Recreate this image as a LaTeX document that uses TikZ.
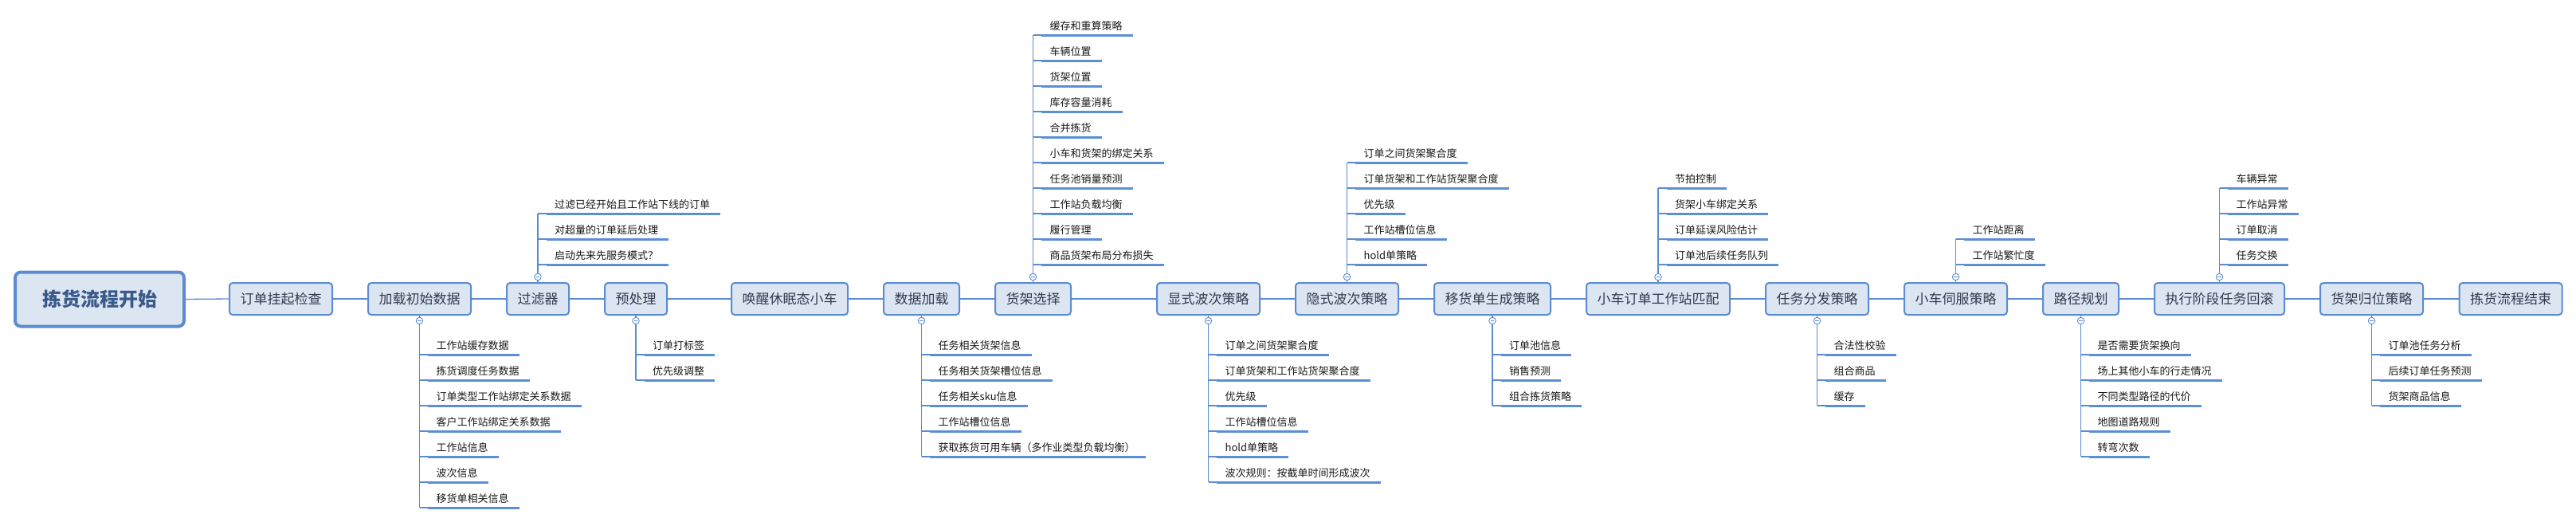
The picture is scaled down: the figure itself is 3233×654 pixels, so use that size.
\documentclass[tikz,border=0pt]{standalone}
\usepackage{fontspec}
\setmainfont{Noto Sans CJK SC}
\usetikzlibrary{calc}
\definecolor{bdr}{HTML}{5B8CD2}
\definecolor{boxfill}{HTML}{DCE6F2}
\definecolor{ulc}{HTML}{5A8FD8}
\definecolor{boxtext}{HTML}{2F3B4E}
\definecolor{maintext}{HTML}{3A5A8A}
\tikzset{
  mmmain/.style={draw=bdr, line width=4pt, fill=boxfill, rounded corners=7pt, minimum width=212pt, minimum height=68pt, inner sep=0pt, font=\fontsize{24}{28}\selectfont\bfseries, text=maintext},
  mmbox/.style={draw=bdr, line width=2pt, fill=boxfill, rounded corners=4pt, minimum height=40pt, inner xsep=13.5pt, inner ysep=0pt, font=\fontsize{17}{20}\selectfont, text=boxtext},
  mmleaf/.style={anchor=base west, inner sep=0pt, font=\fontsize{13}{15}\selectfont, text=black!90},
  mmlink/.style={draw=bdr, line width=1.3pt},
  mmul/.style={draw=ulc, line width=3pt},
  mmtog/.style={draw=bdr, line width=0.9pt, fill=white, circle, minimum size=8.5pt, inner sep=0pt,
    path picture={\draw[bdr, line width=0.8pt] ([xshift=-2.4pt]path picture bounding box.center) -- ([xshift=2.4pt]path picture bounding box.center);}},
}
\newcommand{\mmbelow}[3]{%
  \node[mmtog] (#1-tg) at (#2,402.5) {};
  \draw[mmlink] (#1.south) -- (#1-tg.north);
  \foreach \t [count=\i] in {#3} {
    \pgfmathsetmacro{\yy}{445+32*(\i-1)}
    \coordinate (#1-j\i) at (#2,\yy);
    \coordinate (#1-s\i) at (#2+10.5,\yy);
    \node[mmleaf] (#1-c\i) at (#2+21,\yy-7) {\t};
    \draw[mmul] (#1-s\i) -- (#1-c\i.base east |- #1-s\i) -- ++(13,0);
    \draw[mmlink] (#1-j\i) -- (#1-s\i);
    \xdef\mmlast{\i}
  }
  \draw[mmlink] (#1-tg.south) -- (#1-j\mmlast);
}
\newcommand{\mmabove}[4]{%
  \node[mmtog] (#1-tg) at (#2,347.5) {};
  \draw[mmlink] (#1.north) -- (#1-tg.south);
  \foreach \t [count=\i] in {#4} {
    \pgfmathsetmacro{\yy}{332-32*(#3-\i)}
    \coordinate (#1-j\i) at (#2,\yy);
    \coordinate (#1-s\i) at (#2+10.5,\yy);
    \node[mmleaf] (#1-c\i) at (#2+21,\yy-7) {\t};
    \draw[mmul] (#1-s\i) -- (#1-c\i.base east |- #1-s\i) -- ++(13,0);
    \draw[mmlink] (#1-j\i) -- (#1-s\i);
  }
  \draw[mmlink] (#1-tg.north) -- (#1-j1);
}
\begin{document}
\begin{tikzpicture}[x=1pt, y=-1pt]
\useasboundingbox[fill=white] (0,0) rectangle (3233,654);
% main chain
\node[mmmain] (n1) at (125,375.5) {拣货流程开始};
\node[mmbox] (n2) at (352.5,375) {订单挂起检查};
\node[mmbox] (n3) at (526.5,375) {加载初始数据};
\node[mmbox] (n4) at (675,375) {过滤器};
\node[mmbox] (n5) at (798,375) {预处理};
\node[mmbox] (n6) at (991,375) {唤醒休眠态小车};
\node[mmbox] (n7) at (1156.5,375) {数据加载};
\node[mmbox] (n8) at (1296.5,375) {货架选择};
\node[mmbox] (n9) at (1516.5,375) {显式波次策略};
\node[mmbox] (n10) at (1690.5,375) {隐式波次策略};
\node[mmbox] (n11) at (1873,375) {移货单生成策略};
\node[mmbox] (n12) at (2081,375) {小车订单工作站匹配};
\node[mmbox] (n13) at (2280.5,375) {任务分发策略};
\node[mmbox] (n14) at (2454.5,375) {小车伺服策略};
\node[mmbox] (n15) at (2611.5,375) {路径规划};
\node[mmbox] (n16) at (2785.5,375) {执行阶段任务回滚};
\node[mmbox] (n17) at (2976.5,375) {货架归位策略};
\node[mmbox] (n18) at (3151,375) {拣货流程结束};
\foreach \a/\b in {n1/n2,n2/n3,n3/n4,n4/n5,n5/n6,n6/n7,n7/n8,n8/n9,n9/n10,n10/n11,n11/n12,n12/n13,n13/n14,n14/n15,n15/n16,n16/n17,n17/n18}
  \draw[mmlink] (\a.east) -- (\b.west);
% branches
\mmbelow{n3}{526.5}{工作站缓存数据,拣货调度任务数据,订单类型工作站绑定关系数据,客户工作站绑定关系数据,工作站信息,波次信息,移货单相关信息}
\mmabove{n4}{675}{3}{过滤已经开始且工作站下线的订单,对超量的订单延后处理,启动先来先服务模式？}
\mmbelow{n5}{798}{订单打标签,优先级调整}
\mmbelow{n7}{1156.5}{任务相关货架信息,任务相关货架槽位信息,任务相关sku信息,工作站槽位信息,获取拣货可用车辆（多作业类型负载均衡）}
\mmabove{n8}{1296.5}{10}{缓存和重算策略,车辆位置,货架位置,库存容量消耗,合并拣货,小车和货架的绑定关系,任务池销量预测,工作站负载均衡,履行管理,商品货架布局分布损失}
\mmbelow{n9}{1516.5}{订单之间货架聚合度,订单货架和工作站货架聚合度,优先级,工作站槽位信息,hold单策略,波次规则：按截单时间形成波次}
\mmabove{n10}{1690.5}{5}{订单之间货架聚合度,订单货架和工作站货架聚合度,优先级,工作站槽位信息,hold单策略}
\mmbelow{n11}{1873}{订单池信息,销售预测,组合拣货策略}
\mmabove{n12}{2081}{4}{节拍控制,货架小车绑定关系,订单延误风险估计,订单池后续任务队列}
\mmbelow{n13}{2280.5}{合法性校验,组合商品,缓存}
\mmabove{n14}{2454.5}{2}{工作站距离,工作站繁忙度}
\mmbelow{n15}{2611.5}{是否需要货架换向,场上其他小车的行走情况,不同类型路径的代价,地图道路规则,转弯次数}
\mmabove{n16}{2785.5}{4}{车辆异常,工作站异常,订单取消,任务交换}
\mmbelow{n17}{2976.5}{订单池任务分析,后续订单任务预测,货架商品信息}
\end{tikzpicture}
\end{document}
